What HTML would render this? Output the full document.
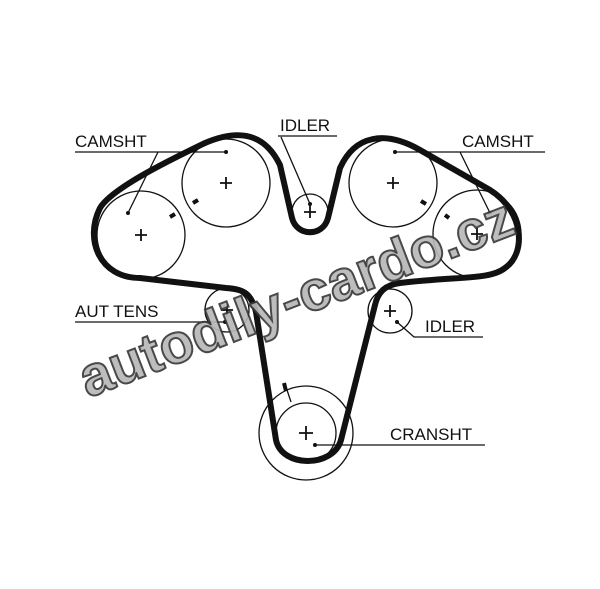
<!DOCTYPE html>
<html><head><meta charset="utf-8"><style>
html,body{margin:0;padding:0;background:#fff;}
svg{display:block}
text.l{font-family:"Liberation Sans",Arial,sans-serif;font-size:17px;fill:#111;}
</style></head><body>
<svg width="600" height="589" viewBox="0 0 600 589" xmlns="http://www.w3.org/2000/svg">
<rect width="600" height="589" fill="#fff"/>
<g fill="none" stroke="#111" stroke-width="1.3">
<circle cx="141" cy="235" r="44"/>
<circle cx="226" cy="183" r="44"/>
<circle cx="310" cy="212" r="18"/>
<circle cx="393" cy="183" r="44"/>
<circle cx="477" cy="234" r="44"/>
<circle cx="227" cy="310" r="22"/>
<circle cx="390" cy="311" r="22"/>
<circle cx="306" cy="433" r="30"/>
<circle cx="306" cy="433" r="47"/>
</g>
<path d="M140,278 C100,278 84,240 100,208 C112,188 170,160 205,143 C240,128 265,134 280,165 L292,218 C297,237 323,237 328,218 L340,168 C355,135 385,130 420,150 L490,190 C525,212 526,254 505,268 C490,280 460,276 400,283 C385,285 378,292 375,305 L341,440 C333,468 282,468 276,440 L256,312 C251,292 242,289 226,288 Z" fill="none" stroke="#111" stroke-width="6" stroke-linejoin="round"/>
<g stroke="#111" stroke-width="1.8">
<path d="M135,235h12M141,229v12M220,183h12M226,177v12M304,212h12M310,206v12M387,183h12M393,177v12M471,234h12M477,228v12M221,310h12M227,304v12M384,311h12M390,305v12M299,433h14M306,426v14"/>
</g>
<g stroke="#111" stroke-width="4">
<path d="M170,217l5,-3M193,203l5,-3M421,201l5,3M445,215l4,3M284,383l2,8"/>
</g>
<g stroke="#111" stroke-width="1.3" fill="none">
<path d="M75,152H226M158,152L128,213"/>
<path d="M395,152H545M460,152L490,213"/>
<path d="M278,136H337M281,137L310,204"/>
<path d="M75,322H225"/>
<path d="M397,322L414,337H483"/>
<path d="M315,445H485"/>
<path d="M287,390l4,12"/>
</g>
<g fill="#111"><circle cx="226" cy="152" r="2"/><circle cx="128" cy="213" r="2"/><circle cx="395" cy="152" r="2"/><circle cx="490" cy="213" r="2"/><circle cx="310" cy="204" r="2"/><circle cx="225" cy="322" r="2"/><circle cx="397" cy="322" r="2"/><circle cx="315" cy="445" r="2"/></g>
<text class="l" x="75" y="147">CAMSHT</text>
<text class="l" x="462" y="147">CAMSHT</text>
<text class="l" x="280" y="131">IDLER</text>
<text class="l" x="75" y="317">AUT TENS</text>
<text class="l" x="425" y="332">IDLER</text>
<text class="l" x="390" y="440">CRANSHT</text>
<text x="0" y="0" transform="translate(88,398) rotate(-21)" font-family="Liberation Sans,Arial,sans-serif" font-weight="bold" font-size="56" fill="#b8b8b8" stroke="#3a3a3a" stroke-width="2" opacity="0.92">autodily-cardo.cz</text>
</svg>
</body></html>
